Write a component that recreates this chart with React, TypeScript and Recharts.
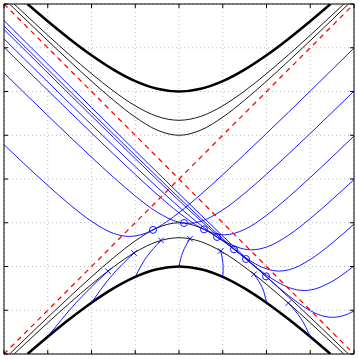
import React from "react";
import { ComposedChart, Line, Scatter, XAxis, YAxis, CartesianGrid } from "recharts";

type Pt = [number, number];

const TICKS = [-4, -3, -2, -1, 0, 1, 2, 3, 4];

// black hyperbolas, upper and lower branches
const thickTop: Pt[] = [[-3.464, 4], [-3, 3.606], [-2.5, 3.202], [-2, 2.828], [-1.5, 2.5], [-1, 2.236], [-0.5, 2.062], [0, 2], [0.5, 2.062], [1, 2.236], [1.5, 2.5], [2, 2.828], [2.5, 3.202], [3, 3.606], [3.464, 4]];
const thickBottom: Pt[] = [[-3.464, -4], [-3, -3.606], [-2.5, -3.202], [-2, -2.828], [-1.5, -2.5], [-1, -2.236], [-0.5, -2.062], [0, -2], [0.5, -2.062], [1, -2.236], [1.5, -2.5], [2, -2.828], [2.5, -3.202], [3, -3.606], [3.464, -4]];
const midTop: Pt[] = [[-3.768, 4], [-3.5, 3.748], [-3, 3.286], [-2.5, 2.837], [-2, 2.408], [-1.5, 2.012], [-1, 1.673], [-0.5, 1.432], [0, 1.342], [0.5, 1.432], [1, 1.673], [1.5, 2.012], [2, 2.408], [2.5, 2.837], [3, 3.286], [3.5, 3.748], [3.768, 4]];
const midBottom: Pt[] = [[-3.768, -4], [-3.5, -3.748], [-3, -3.286], [-2.5, -2.837], [-2, -2.408], [-1.5, -2.012], [-1, -1.673], [-0.5, -1.432], [0, -1.342], [0.5, -1.432], [1, -1.673], [1.5, -2.012], [2, -2.408], [2.5, -2.837], [3, -3.286], [3.5, -3.748], [3.768, -4]];
const innerTop: Pt[] = [[-3.873, 4], [-3.5, 3.64], [-3, 3.162], [-2.5, 2.693], [-2, 2.236], [-1.5, 1.803], [-1, 1.414], [-0.5, 1.118], [0, 1], [0.5, 1.118], [1, 1.414], [1.5, 1.803], [2, 2.236], [2.5, 2.693], [3, 3.162], [3.5, 3.64], [3.873, 4]];
const innerBottom: Pt[] = [[-3.873, -4], [-3.5, -3.64], [-3, -3.162], [-2.5, -2.693], [-2, -2.236], [-1.5, -1.803], [-1, -1.414], [-0.5, -1.118], [0, -1], [0.5, -1.118], [1, -1.414], [1.5, -1.803], [2, -2.236], [2.5, -2.693], [3, -3.162], [3.5, -3.64], [3.873, -4]];

// asymptotes
const diagUp: Pt[] = [[-4, -4], [4, 4]];
const diagDown: Pt[] = [[-4, 4], [4, -4]];

// blue U-shaped curves
const uA: Pt[] = [[-4, 0.783], [-3.5, 0.311], [-3, -0.147], [-2.5, -0.582], [-2, -0.967], [-1.5, -1.242], [-1.135, -1.312], [-0.75, -1.234], [-0.5, -1.113], [0, -0.768], [0.5, -0.351], [1, 0.098], [1.5, 0.565], [2, 1.042], [2.5, 1.524], [3, 2.011], [3.5, 2.501], [4, 2.992]];
const uB: Pt[] = [[-4, 2.424], [-3.5, 1.935], [-3, 1.45], [-2.5, 0.97], [-2, 0.499], [-1.5, 0.042], [-1, -0.388], [-0.5, -0.757], [0, -0.987], [0.2125, -1.0125], [0.5, -0.966], [1, -0.707], [1.5, -0.326], [2, 0.109], [2.5, 0.569], [3, 1.042], [3.5, 1.523], [4, 2.008]];
const uC: Pt[] = [[-4, 3.011], [-3.5, 2.518], [-3, 2.027], [-2.5, 1.538], [-2, 1.053], [-1.5, 0.573], [-1, 0.103], [-0.5, -0.352], [0, -0.772], [0.5, -1.115], [1.037, -1.276], [1.5, -1.153], [2, -0.829], [2.5, -0.416], [3, 0.034], [3.5, 0.503], [4, 0.982]];
const uD: Pt[] = [[-4, 3.203], [-3.5, 2.71], [-3, 2.219], [-2.5, 1.729], [-2, 1.242], [-1.5, 0.759], [-1, 0.282], [-0.5, -0.186], [0, -0.637], [0.5, -1.056], [1, -1.406], [1.656, -1.619], [2, -1.556], [2.5, -1.287], [3, -0.904], [3.5, -0.47], [4, -0.012]];
const uE: Pt[] = [[-4, 3.417], [-3.5, 2.922], [-3, 2.427], [-2.5, 1.934], [-2, 1.442], [-1.5, 0.952], [-1, 0.465], [-0.5, -0.018], [0, -0.493], [0.5, -0.957], [1, -1.397], [1.5, -1.786], [2, -2.055], [2.29, -2.105], [2.5, -2.078], [3, -1.84], [3.5, -1.464], [4, -1.029]];
const uF: Pt[] = [[-4, 3.498], [-3.5, 3.003], [-3, 2.507], [-2.5, 2.013], [-2, 1.52], [-1.5, 1.029], [-1, 0.54], [-0.5, 0.054], [0, -0.428], [0.5, -0.902], [1, -1.364], [1.5, -1.803], [2, -2.194], [2.5, -2.477], [2.862, -2.549], [3, -2.538], [3.5, -2.34], [4, -1.987]];
const uG: Pt[] = [[-4, 3.621], [-3.5, 3.124], [-3, 2.627], [-2.5, 2.13], [-2, 1.635], [-1.5, 1.14], [-1, 0.646], [-0.5, 0.154], [0, -0.336], [0.5, -0.823], [1, -1.304], [1.5, -1.778], [2, -2.236], [2.5, -2.661], [3, -3.009], [3.25, -3.12], [3.508, -3.162], [3.75, -3.125], [4, -3.018]];

// short blue arcs from the outer hyperbola up to the x marks
const s1: Pt[] = [[-3, -3.606], [-2.347, -2.822], [-1.623, -2.106]];
const s2: Pt[] = [[-2, -2.828], [-1.553, -2.227], [-1.029, -1.691]];
const s3: Pt[] = [[-1, -2.236], [-0.746, -1.791], [-0.411, -1.403]];
const s4: Pt[] = [[0, -2], [0.088, -1.668], [0.251, -1.365]];
const s5: Pt[] = [[1, -2.236], [1.006, -1.939], [0.953, -1.646]];
const s6: Pt[] = [[2, -2.828], [1.903, -2.482], [1.714, -2.177]];
const s7: Pt[] = [[3, -3.606], [2.791, -3.194], [2.498, -2.836]];

const circleMarks: Pt[] = [[-0.594, -1.163], [0.114, -1.006], [0.571, -1.151], [0.869, -1.325], [1.257, -1.606], [1.531, -1.829], [1.989, -2.226]];
const crossMarks: Pt[] = [[-1.623, -2.106], [-1.029, -1.691], [-0.411, -1.403], [0.251, -1.365], [0.953, -1.646], [1.714, -2.177], [2.498, -2.836]];

const toRows = (pts: Pt[]) => pts.map(([x, y]) => ({ x, y }));

const BLUE = "#0000ff";

const blackCurves = [
  { pts: thickTop, w: 2.6 },
  { pts: thickBottom, w: 2.6 },
  { pts: midTop, w: 0.9 },
  { pts: midBottom, w: 0.9 },
  { pts: innerTop, w: 0.9 },
  { pts: innerBottom, w: 0.9 },
];
const uCurves = [uA, uB, uC, uD, uE, uF, uG];
const shortCurves = [s1, s2, s3, s4, s5, s6, s7];

const CircleMark = (props: any) => (
  <circle cx={props.cx} cy={props.cy} r={3.5} fill="none" stroke={BLUE} strokeWidth={0.9} />
);

const CrossMark = (props: any) => {
  const { cx, cy } = props;
  const d = 2.8;
  return (
    <g stroke={BLUE} strokeWidth={0.9}>
      <line x1={cx - d} y1={cy - d} x2={cx + d} y2={cy + d} />
      <line x1={cx - d} y1={cy + d} x2={cx + d} y2={cy - d} />
    </g>
  );
};

const NoLabel = () => <g />;

const axisCommon = {
  type: "number" as const,
  domain: [-4, 4],
  ticks: TICKS,
  tick: NoLabel,
  tickSize: 4,
  interval: 0 as const,
  mirror: true,
  stroke: "#000",
  allowDataOverflow: true,
};

export default function App() {
  return (
    <div style={{ position: "absolute", left: 0, top: 0, width: 359, height: 359, background: "#fff" }}>
      <ComposedChart width={359} height={359} margin={{ top: 4, right: 5, bottom: 5, left: 4 }}>
        <CartesianGrid stroke="#bdbdbd" strokeDasharray="1 3" />
        <XAxis {...axisCommon} dataKey="x" height={1} />
        <XAxis {...axisCommon} xAxisId="top" orientation="top" dataKey="x" height={1} />
        <YAxis {...axisCommon} dataKey="y" width={1} />
        <YAxis {...axisCommon} yAxisId="right" orientation="right" dataKey="y" width={1} />

        {blackCurves.map((c, i) => (
          <Line key={"k" + i} data={toRows(c.pts)} dataKey="y" type="monotone" stroke="#000" strokeWidth={c.w} dot={false} activeDot={false} isAnimationActive={false} />
        ))}

        {uCurves.map((c, i) => (
          <Line key={"u" + i} data={toRows(c)} dataKey="y" type="monotone" stroke={BLUE} strokeWidth={0.9} dot={false} activeDot={false} isAnimationActive={false} />
        ))}

        {shortCurves.map((c, i) => (
          <Line key={"s" + i} data={toRows(c)} dataKey="y" type="natural" stroke={BLUE} strokeWidth={0.9} dot={false} activeDot={false} isAnimationActive={false} />
        ))}

        <Scatter data={toRows(circleMarks)} dataKey="y" shape={CircleMark} isAnimationActive={false} />
        <Scatter data={toRows(crossMarks)} dataKey="y" shape={CrossMark} isAnimationActive={false} />

        <Line data={toRows(diagUp)} dataKey="y" type="linear" stroke="#ff0000" strokeWidth={1.3} strokeDasharray="5 4.5" dot={false} activeDot={false} isAnimationActive={false} />
        <Line data={toRows(diagDown)} dataKey="y" type="linear" stroke="#ff0000" strokeWidth={1.3} strokeDasharray="5 4.5" dot={false} activeDot={false} isAnimationActive={false} />
      </ComposedChart>
    </div>
  );
}
